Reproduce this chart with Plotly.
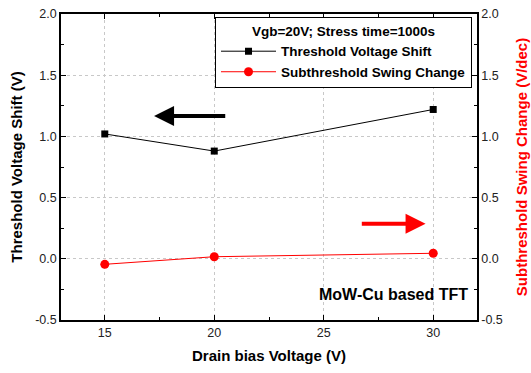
import plotly.graph_objects as go

drain_bias = [15, 20, 30]
vth_shift = [1.02, 0.88, 1.22]
ss_change = [-0.045, 0.017, 0.045]

x_ticks = [15, 20, 25, 30]
y_ticks = [-0.5, 0.0, 0.5, 1.0, 1.5, 2.0]
y_ticklabels = ["-0.5", "0.0", "0.5", "1.0", "1.5", "2.0"]

FONT = "Liberation Sans, Arial, sans-serif"

fig = go.Figure()
fig.add_trace(go.Scatter(
    x=drain_bias, y=vth_shift, mode="lines+markers",
    name="<b>Threshold Voltage Shift</b>",
    line=dict(color="black", width=1),
    marker=dict(symbol="square", size=7, color="black"),
))
fig.add_trace(go.Scatter(
    x=drain_bias, y=ss_change, mode="lines+markers",
    name="<b>Subthreshold Swing Change</b>",
    line=dict(color="red", width=1),
    marker=dict(symbol="circle", size=9, color="red"),
    yaxis="y2",
))

common_y = dict(
    range=[-0.5, 2.0], tickvals=y_ticks, ticktext=y_ticklabels,
    ticks="inside", ticklen=5, tickcolor="black",
    minor=dict(ticks="inside", ticklen=3, dtick=0.25, tickcolor="black", showgrid=False),
    showline=True, linecolor="black", linewidth=1.5,
    tickfont=dict(family=FONT, size=12.5, color="#222"),
    zeroline=False, automargin=False,
)

fig.update_layout(
    width=531, height=373,
    margin=dict(l=61, r=54, t=14, b=53),
    paper_bgcolor="white", plot_bgcolor="white",
    font=dict(family=FONT, color="black"),
    xaxis=dict(
        range=[13, 32], tickvals=x_ticks,
        ticks="inside", ticklen=5, tickcolor="black",
        minor=dict(ticks="inside", ticklen=3, dtick=2.5, tickcolor="black", showgrid=False),
        showline=True, linecolor="black", linewidth=1.5, mirror="ticks",
        showgrid=True, gridcolor="#c8c8c8", griddash="dot", gridwidth=1,
        tickfont=dict(family=FONT, size=12.5, color="#222"),
        title=dict(text="<b>Drain bias Voltage (V)</b>", font=dict(family=FONT, size=15, color="black"), standoff=12),
        zeroline=False, automargin=False,
    ),
    yaxis=dict(
        **common_y,
        showgrid=True, gridcolor="#c8c8c8", griddash="dot", gridwidth=1,
        title=dict(text="<b>Threshold Voltage Shift (V)</b>", font=dict(family=FONT, size=15, color="black"), standoff=9),
    ),
    yaxis2=dict(
        **common_y,
        overlaying="y", side="right", showgrid=False,
        title=dict(text="<b>Subthreshold Swing Change (V/dec)</b>", font=dict(family=FONT, size=15, color="red"), standoff=15),
    ),
    legend=dict(
        x=0.988, y=0.989, xanchor="right", yanchor="top",
        bordercolor="black", borderwidth=1, bgcolor="white",
        font=dict(family=FONT, size=13.5, color="black"),
        title=dict(text="<b>Vgb=20V; Stress time=1000s</b>", side="top center",
                   font=dict(family=FONT, size=13.5, color="black")),
        itemwidth=55, tracegroupgap=0,
    ),
    showlegend=True,
)

fig.add_annotation(x=17.25, y=1.167, ax=20.57, ay=1.167, xref="x", yref="y", axref="x", ayref="y",
                   text="", showarrow=True, arrowhead=2, arrowsize=1, arrowwidth=4, arrowcolor="black")
fig.add_annotation(x=29.65, y=0.287, ax=26.67, ay=0.287, xref="x", yref="y", axref="x", ayref="y",
                   text="", showarrow=True, arrowhead=2, arrowsize=1, arrowwidth=4, arrowcolor="red")
fig.add_annotation(x=0.983, y=0.082, xref="paper", yref="paper", xanchor="right", yanchor="middle",
                   text="<b>MoW-Cu based TFT</b>", showarrow=False,
                   font=dict(family=FONT, size=16, color="black"))

fig.write_html("out.html")
